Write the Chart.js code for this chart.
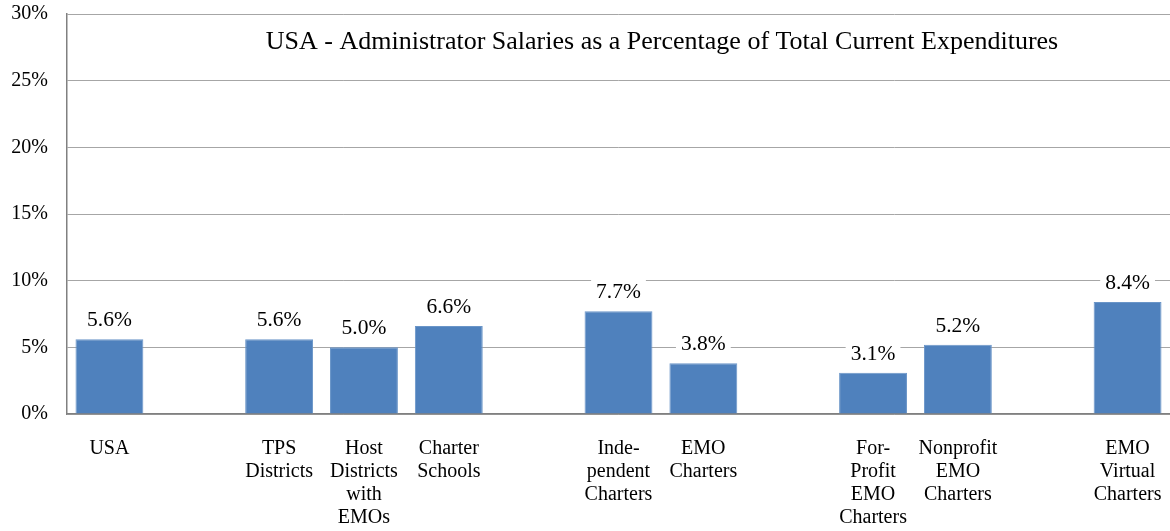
<!DOCTYPE html>
<html>
<head>
<meta charset="utf-8">
<script src="https://cdn.jsdelivr.net/npm/chart.js@4"></script>
<style>
  html, body { margin: 0; padding: 0; background: #fff; }
  #wrap { width: 1170px; height: 531px; }
</style>
</head>
<body>
<div id="wrap"><canvas id="myChart"></canvas></div>
<script>
// empty strings are the spacer slots between the groups
var categories = [
  ['USA'], '',
  ['TPS', 'Districts'], ['Host', 'Districts', 'with', 'EMOs'], ['Charter', 'Schools'], '',
  ['Inde-', 'pendent', 'Charters'], ['EMO', 'Charters'], '',
  ['For-', 'Profit', 'EMO', 'Charters'], ['Nonprofit', 'EMO', 'Charters'], '',
  ['EMO', 'Virtual', 'Charters']
];
var salaryShare = [5.6, null, 5.6, 5.0, 6.6, null, 7.7, 3.8, null, 3.1, 5.2, null, 8.4];
var yTicks = [0, 5, 10, 15, 20, 25, 30];
var chartTitle = 'USA - Administrator Salaries as a Percentage of Total Current Expenditures';

var serif = '"Liberation Serif", "DejaVu Serif", serif';

// value labels on a white box above each bar
var valueLabels = {
  id: 'valueLabels',
  afterDatasetsDraw: function(chart) {
    var ctx = chart.ctx;
    var meta = chart.getDatasetMeta(0);
    ctx.save();
    ctx.font = '21.5px ' + serif;
    ctx.textAlign = 'center';
    ctx.textBaseline = 'bottom';
    meta.data.forEach(function(bar, i) {
      var v = salaryShare[i];
      if (v === null) return;
      var txt = v.toFixed(1) + '%';
      var w = ctx.measureText(txt).width;
      ctx.fillStyle = '#fff';
      ctx.fillRect(bar.x - w / 2 - 5, bar.y - 32, w + 10, 26);
      ctx.fillStyle = '#000';
      ctx.fillText(txt, bar.x, bar.y - 8);
    });
    ctx.restore();
  }
};

var innerTitle = {
  id: 'innerTitle',
  afterDraw: function(chart) {
    var a = chart.chartArea;
    var ctx = chart.ctx;
    ctx.save();
    ctx.font = '26px ' + serif;
    ctx.fillStyle = '#000';
    ctx.textAlign = 'center';
    ctx.textBaseline = 'middle';
    ctx.fillText(chartTitle, 662, a.top + 28);
    ctx.restore();
  }
};

var ctx1 = document.getElementById('myChart').getContext('2d');
var myChart = new Chart(ctx1, {
  type: 'bar',
  data: {
    labels: categories,
    datasets: [{
      data: salaryShare,
      backgroundColor: '#4F81BD',
      borderColor: '#6a95c8',
      borderWidth: 1,
      categoryPercentage: 1,
      barPercentage: 0.8
    }]
  },
  options: {
    responsive: true,
    maintainAspectRatio: false,
    animation: false,
    layout: { padding: { top: 14, right: 0, left: 0, bottom: 0 } },
    scales: {
      x: {
        grid: { display: false, drawTicks: false },
        border: { color: '#808080', width: 1.5 },
        ticks: {
          color: '#000',
          font: { family: serif, size: 20, lineHeight: 1.15 },
          padding: 23,
          maxRotation: 0,
          autoSkip: false
        },
        afterFit: function(scale) {
          scale.height = 117;
          scale.paddingLeft = 0;
          scale.paddingRight = 0;
        }
      },
      y: {
        min: 0,
        max: 30,
        afterBuildTicks: function(scale) {
          scale.ticks = yTicks.map(function(v) { return { value: v }; });
        },
        grid: { color: '#a6a6a6', lineWidth: 1, drawTicks: false },
        border: { color: '#808080', width: 1.5 },
        ticks: {
          color: '#000',
          font: { family: serif, size: 20 },
          padding: 19,
          callback: function(v) { return v + '%'; }
        },
        afterFit: function(scale) {
          scale.width = 67;
          scale.paddingTop = 0;
          scale.paddingBottom = 0;
        }
      }
    },
    plugins: {
      legend: { display: false },
      tooltip: { enabled: false }
    }
  },
  plugins: [valueLabels, innerTitle]
});
</script>
</body>
</html>
